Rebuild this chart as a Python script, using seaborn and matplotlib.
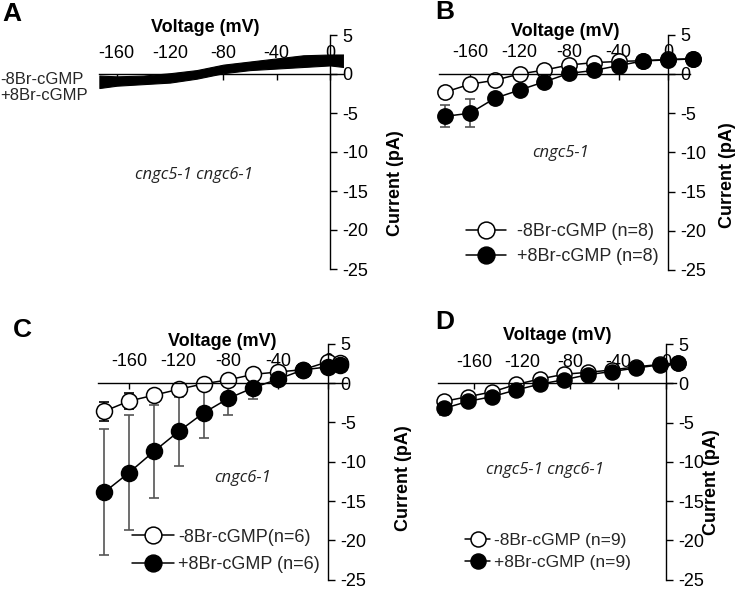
import matplotlib
matplotlib.use("Agg")
import matplotlib.pyplot as plt
import seaborn as sns

sns.set_style("white")
plt.rcParams["font.family"] = ["Liberation Sans", "DejaVu Sans"]
plt.rcParams["axes.unicode_minus"] = False

# ---- data ----
# A: raw current trace, drawn as its envelope
volt_a = [-173, -160, -140, -120, -100, -80, -60, -40, -20, 0, 10]
upper_a = [-0.2, -0.3, -0.2, 0.1, 0.5, 1.2, 1.6, 2.0, 2.4, 2.5, 2.5]
lower_a = [-1.8, -1.5, -1.3, -1.1, -0.6, 0.1, 0.5, 0.7, 0.9, 1.1, 0.9]

# B: cngc5-1
volt_b = [-180, -160, -140, -120, -100, -80, -60, -40, -20, 0, 20]
b_minus = [-2.3, -1.3, -0.8, 0.0, 0.5, 1.15, 1.45, 1.6, 1.7, 1.85, 1.95]
b_minus_err = [0.4, 0.4, 0.3, 0.3, 0.3, 0.3, 0.3, 0.3, 0.2, 0.2, 0.2]
b_plus = [-5.4, -5.0, -3.1, -2.05, -1.0, 0.08, 0.45, 1.07, 1.67, 1.8, 1.92]
b_plus_err = [1.4, 1.8, 0.6, 0.5, 0.5, 0.4, 0.4, 0.3, 0.3, 0.3, 0.3]

# C: cngc6-1
volt_c = [-180, -160, -140, -120, -100, -80, -60, -40, -20, 0, 10]
c_minus = [-3.6, -2.3, -1.55, -0.8, -0.1, 0.4, 1.1, 1.4, 1.7, 2.7, 2.5]
c_minus_err = [1.2, 1.0, 0.7, 0.6, 0.5, 0.5, 0.4, 0.4, 0.4, 0.4, 0.4]
c_plus = [-13.9, -11.4, -8.7, -6.15, -3.8, -1.95, -0.6, 0.5, 1.67, 2.05, 2.35]
c_plus_err = [8.0, 7.3, 5.9, 4.4, 3.2, 2.15, 1.45, 0.6, 0.5, 0.4, 0.4]

# D: cngc5-1 cngc6-1
volt_d = [-185, -165, -145, -125, -105, -85, -65, -45, -25, -5, 10]
d_minus = [-2.3, -1.7, -1.1, -0.15, 0.55, 1.15, 1.4, 1.7, 2.1, 2.4, 2.55]
d_minus_err = [0.5, 0.4, 0.4, 0.3, 0.3, 0.3, 0.3, 0.3, 0.3, 0.3, 0.3]
d_plus = [-3.2, -2.3, -1.7, -0.85, -0.1, 0.45, 1.1, 1.5, 1.95, 2.35, 2.56]
d_plus_err = [0.8, 0.6, 0.5, 0.4, 0.4, 0.3, 0.3, 0.3, 0.3, 0.3, 0.3]

xticks = [-160, -120, -80, -40, 0]
yticks = [-25, -20, -15, -10, -5, 0, 5]

W, H = 737, 589
fig = plt.figure(figsize=(W / 100, H / 100), dpi=100)


def ftext(x, y, s, **kw):
    # place text by pixel position of the reference
    fig.text(x / W, 1 - y / H, s, **kw)


def make_ax(x0, kx, y0, ky, xlim, ylim=(-25, 5)):
    left = x0 + kx * xlim[0]
    right = x0 + kx * xlim[1]
    top = y0 - ky * ylim[1]
    bottom = y0 - ky * ylim[0]
    ax = fig.add_axes([left / W, 1 - bottom / H, (right - left) / W, (bottom - top) / H])
    ax.set_xlim(xlim)
    ax.set_ylim(ylim)
    ax.patch.set_visible(False)
    ax.spines["left"].set_visible(False)
    ax.spines["bottom"].set_visible(False)
    ax.spines["top"].set_position(("data", 0))
    ax.spines["right"].set_position(("data", 0))
    for s in ["top", "right"]:
        ax.spines[s].set_color("black")
        ax.spines[s].set_linewidth(1.0)
    ax.xaxis.tick_top()
    ax.yaxis.tick_right()
    ax.set_xticks(xticks)
    ax.set_xticklabels([str(t) for t in xticks])
    ax.set_yticks(yticks)
    ax.set_yticklabels([str(t) for t in yticks])
    ax.tick_params(axis="x", direction="in", length=4, width=1, pad=9, labelsize=13, colors="black")
    ax.tick_params(axis="y", direction="out", length=5, width=1, pad=4, labelsize=13, colors="black")
    ax.set_xlabel("")
    ax.set_ylabel("")
    return ax


def iv_panel(ax, volt, ym, em, yp, ep, lab_m, lab_p, ms):
    ax.errorbar(volt, yp, yerr=ep, fmt="none", ecolor="#555555", elinewidth=1.2,
                capsize=3.5, capthick=1.2, zorder=1, clip_on=False)
    ax.errorbar(volt, ym, yerr=em, fmt="none", ecolor="black", elinewidth=1.2,
                capsize=3.5, capthick=1.2, zorder=1.5, clip_on=False)
    sns.lineplot(x=volt, y=ym, ax=ax, color="black", lw=1.1, marker="o", markersize=ms,
                 markerfacecolor="white", markeredgecolor="black", markeredgewidth=1.1,
                 label=lab_m, zorder=2, clip_on=False)
    sns.lineplot(x=volt, y=yp, ax=ax, color="black", lw=1.1, marker="o", markersize=ms,
                 markerfacecolor="black", markeredgecolor="black", markeredgewidth=1.1,
                 label=lab_p, zorder=3, clip_on=False)


# ---- A ----
axA = make_ax(330, 1.333, 74, 7.8, (-173, 10))
axA.fill_between(volt_a, lower_a, upper_a, color="black", lw=0.8, edgecolor="black")

# ---- B ----
axB = make_ax(668, 1.2375, 74, 7.84, (-185, 18))
iv_panel(axB, volt_b, b_minus, b_minus_err, b_plus, b_plus_err,
         "-8Br-cGMP (n=8)", "+8Br-cGMP (n=8)", 11)
axB.legend(loc="center left", bbox_to_anchor=(466 / W, 1 - 244 / H), bbox_transform=fig.transFigure,
           frameon=False, fontsize=13, borderpad=0, borderaxespad=0, handlelength=2.2,
           handletextpad=0.6, labelspacing=0.45, markerscale=1.1)

# ---- C ----
axC = make_ax(328, 1.244, 383, 7.87, (-185, 15))
iv_panel(axC, volt_c, c_minus, c_minus_err, c_plus, c_plus_err,
         "-8Br-cGMP(n=6)", "+8Br-cGMP (n=6)", 11.5)
axC.legend(loc="center left", bbox_to_anchor=(132 / W, 1 - 551 / H), bbox_transform=fig.transFigure,
           frameon=False, fontsize=13, borderpad=0, borderaxespad=0, handlelength=2.3,
           handletextpad=0.25, labelspacing=0.6, markerscale=1.05)

# ---- D ----
axD = make_ax(666, 1.2, 383.3, 7.85, (-190, 8))
iv_panel(axD, volt_d, d_minus, d_minus_err, d_plus, d_plus_err,
         "-8Br-cGMP (n=9)", "+8Br-cGMP (n=9)", 10.8)
axD.legend(loc="center left", bbox_to_anchor=(465 / W, 1 - 551.7 / H), bbox_transform=fig.transFigure,
           frameon=False, fontsize=12.5, borderpad=0, borderaxespad=0, handlelength=1.45,
           handletextpad=0.2, labelspacing=0.4)

# ---- texts ----
bold = dict(fontweight="bold", ha="center", va="center", color="black")
for x, y, s in [(12, 14, "A"), (445, 12, "B"), (22, 330, "C"), (445, 322, "D")]:
    ftext(x, y, s, fontsize=19, **bold)
for x, y in [(205, 27), (565, 31), (222, 341), (557, 336)]:
    ftext(x, y, "Voltage (mV)", fontsize=13, **bold)
for x, y in [(395, 183), (727, 175), (404, 478), (711, 482)]:
    ftext(x, y, "Current (pA)", fontsize=13, rotation=90, **bold)

ital = dict(style="italic", ha="center", va="center", color="#222222", family=["Open Sans", "DejaVu Sans"])
ftext(194, 175, "cngc5-1 cngc6-1", fontsize=12, **ital)
ftext(561, 153, "cngc5-1", fontsize=12, **ital)
ftext(243, 478, "cngc6-1", fontsize=12, **ital)
ftext(545, 470, "cngc5-1 cngc6-1", fontsize=12, **ital)

ftext(0, 80, "-8Br-cGMP", fontsize=12, ha="left", va="center")
ftext(0, 96, "+8Br-cGMP", fontsize=12, ha="left", va="center")

fig.savefig("out.png", dpi=100)
